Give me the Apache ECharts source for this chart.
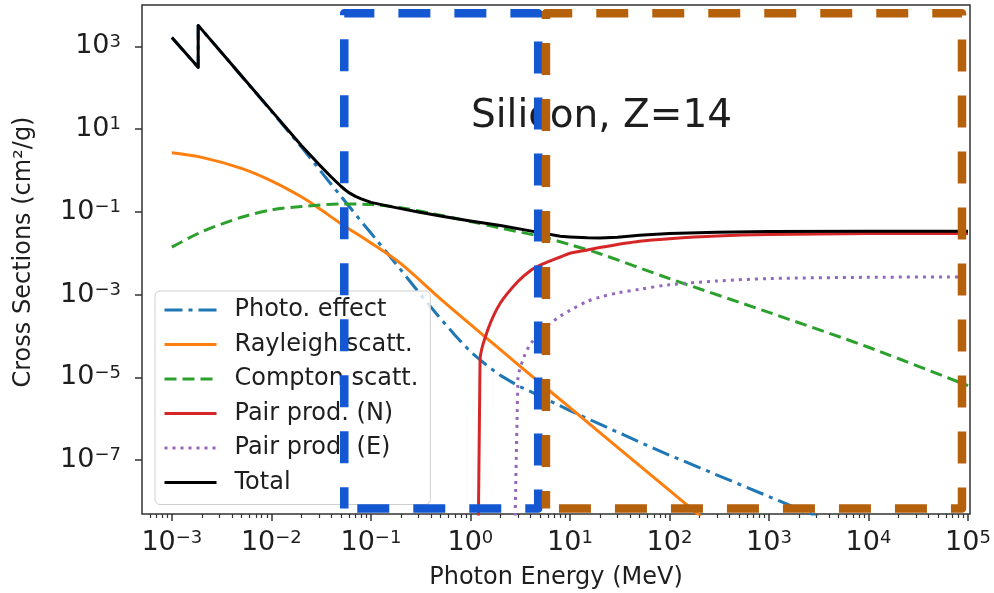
<!DOCTYPE html>
<html>
<head>
<meta charset="utf-8">
<script src="https://cdn.jsdelivr.net/npm/echarts@6.0.0/dist/echarts.min.js"></script>
<style>
  html, body { margin: 0; padding: 0; background: #ffffff; }
  #chart { width: 994px; height: 593px; }
</style>
</head>
<body>
<div id="chart"></div>
<script>
// Photon mass cross sections of silicon (Z = 14), energies in MeV, values in cm^2/g.
const photoEnergy = [1e-3, 1.839e-3, 1.839e-3, 2e-3, 3e-3, 5e-3, 1e-2, 2e-2, 3e-2, 4e-2, 5e-2, 6e-2, 8e-2, 0.1, 0.2, 0.3, 0.5, 0.7, 1, 1.5, 2, 3, 5, 10, 20, 50, 100, 1000, 1e4];
const photo = [1641, 307.6, 3199, 2529, 811, 193.2, 27.2, 3.72, 1.10, 0.461, 0.238, 0.139, 0.0589, 0.0309, 3.98e-3, 1.17e-3, 2.63e-4, 1.05e-4, 4.17e-5, 1.86e-5, 1.12e-5, 6.31e-6, 3.55e-6, 1.58e-6, 7.41e-7, 2.75e-7, 1.32e-7, 1.32e-8, 1.32e-9];

const rayleighEnergy = [1e-3, 2e-3, 5e-3, 1e-2, 2e-2, 3e-2, 5e-2, 0.1, 0.2, 0.5, 1, 2, 5, 10, 100, 1000];
const rayleigh = [2.69, 2.08, 1.13, 0.564, 0.232, 0.123, 0.0520, 0.0178, 5.62e-3, 7.94e-4, 1.91e-4, 4.68e-5, 7.41e-6, 1.86e-6, 1.86e-8, 1.86e-10];

const comptonEnergy = [1e-3, 2e-3, 5e-3, 1e-2, 2e-2, 5e-2, 0.1, 0.2, 0.5, 1, 2, 5, 10, 20, 100, 1000, 1e4, 1e5];
const compton = [0.0141, 0.0331, 0.0741, 0.112, 0.135, 0.155, 0.151, 0.126, 0.0832, 0.0589, 0.0407, 0.0257, 0.0162, 9.77e-3, 2.45e-3, 3.72e-4, 5.37e-5, 6.31e-6];

const pairNEnergy = [1.022, 1.25, 1.5, 2, 3, 4, 5, 6, 8, 10, 15, 20, 50, 100, 300, 1000, 1e4, 1e5];
const pairN = [0, 2.69e-5, 1.45e-4, 6.31e-4, 2.09e-3, 3.80e-3, 5.13e-3, 6.17e-3, 8.13e-3, 0.0100, 0.0120, 0.0138, 0.0195, 0.0226, 0.0263, 0.0285, 0.0299, 0.0302];

const pairEEnergy = [2.044, 3, 3.5, 4, 5, 6, 8, 10, 15, 20, 30, 50, 100, 300, 1000, 1e4, 1e5];
const pairE = [0, 8.91e-6, 3.39e-5, 6.31e-5, 1.20e-4, 1.82e-4, 3.02e-4, 4.17e-4, 6.92e-4, 8.71e-4, 1.10e-3, 1.35e-3, 1.74e-3, 2.14e-3, 2.45e-3, 2.63e-3, 2.69e-3];

const totalEnergy = [1e-3, 1.839e-3, 1.839e-3, 2e-3, 3e-3, 5e-3, 1e-2, 2e-2, 3e-2, 4e-2, 5e-2, 5.5e-2, 6e-2, 7e-2, 8e-2, 0.1, 0.15, 0.2, 0.3, 0.5, 1, 2, 5, 8, 10, 15, 20, 30, 50, 100, 300, 1000, 1e4, 1e5];
const total = [1648, 311.9, 3206, 2541, 816.6, 195.4, 28.05, 4.03, 1.41, 0.697, 0.417, 0.343, 0.292, 0.237, 0.207, 0.170, 0.138, 0.120, 0.100, 0.0794, 0.0603, 0.0468, 0.0316, 0.0257, 0.0248, 0.0237, 0.0234, 0.0243, 0.0272, 0.0302, 0.0324, 0.0335, 0.0339, 0.0339];

const seriesNames = ['Photo. effect', 'Rayleigh scatt.', 'Compton scatt.', 'Pair prod. (N)', 'Pair prod. (E)', 'Total'];

// Energy windows highlighted with dashed frames (MeV, cm^2/g).
const lowWindow = { energy: [0.054, 4.8], sigma: [6.8e-9, 6300] };
const highWindow = { energy: [5.74, 8.7e4], sigma: [6.8e-9, 6300] };

// Tick exponents (powers of ten).
const xTickExp = [-3, -2, -1, 0, 1, 2, 3, 4, 5];
const yTickExp = [-7, -5, -3, -1, 1, 3];

const FONT = 'DejaVu Sans';
const X_MIN = -3.3, X_MAX = 5.02, Y_MIN = -8.3, Y_MAX = 4.0;
const LOG_FLOOR = -30; // zero values are pushed far below the axis, as a log plot clips them

function toLog(E, V) {
  return E.map((e, i) => [Math.log10(e), V[i] > 0 ? Math.log10(V[i]) : LOG_FLOOR]);
}

// minor ticks at 2..9 x 10^n
const minorTicks = [];
for (let n = -4; n <= 4; n++) {
  for (let k = 2; k <= 9; k++) {
    const v = Math.log10(k) + n;
    if (v > X_MIN && v < X_MAX) minorTicks.push(v);
  }
}

function powerLabel(v) {
  const n = Math.round(v);
  return '{b|10}{s|' + String(n).replace('-', '\u2212') + '}';
}
const tickRich = {
  b: { fontSize: 27, lineHeight: 27, fontFamily: FONT, color: '#1e1e1e' },
  s: { fontSize: 18, lineHeight: 18, fontFamily: FONT, color: '#1e1e1e', verticalAlign: 'top' }
};

function curve(name, E, V, color, type, z, smooth) {
  return {
    name, type: 'line', data: toLog(E, V), symbol: 'none', showSymbol: false,
    clip: true, z, silent: true,
    smooth: smooth || false,
    itemStyle: { color },
    lineStyle: { color, width: 3, type, cap: 'butt', join: 'round' }
  };
}

function frame(win, color) {
  const [x0, x1] = win.energy.map(v => Math.log10(v));
  const [y0, y1] = win.sigma.map(v => Math.log10(v));
  return {
    type: 'line', data: [[x0, y0], [x1, y0], [x1, y1], [x0, y1], [x0, y0]],
    symbol: 'none', showSymbol: false, clip: false, z: 10, silent: true,
    lineStyle: { color, width: 8.5, type: [32, 24], dashOffset: 43, cap: 'butt', join: 'round' }
  };
}

const chart = echarts.init(document.getElementById('chart'), null, { renderer: 'canvas' });

const option = {
  animation: false,
  backgroundColor: '#ffffff',
  textStyle: { fontFamily: FONT },
  title: {
    text: 'Silicon, Z=14', left: 471, top: 97, padding: 0, z: 6,
    textStyle: { fontSize: 39, fontWeight: 'normal', color: '#1e1e1e', fontFamily: FONT }
  },
  grid: {
    left: 142, right: 24, top: 5, bottom: 79, show: true,
    borderColor: '#333333', borderWidth: 1.5, backgroundColor: 'transparent',
    containLabel: false, outerBoundsMode: 'none'
  },
  legend: {
    data: seriesNames,
    orient: 'vertical', left: 155, top: 291,
    padding: [7, 12, 10, 8], itemGap: 10.5, itemWidth: 52, itemHeight: 14,
    backgroundColor: 'rgba(255,255,255,0.8)', borderColor: '#cfcfcf', borderWidth: 1, borderRadius: 5,
    selectedMode: false, z: 4,
    lineStyle: { width: 3 },
    itemStyle: { color: 'rgba(0,0,0,0)', borderWidth: 0, opacity: 0 },
    formatter: name => '{t|' + name + '}',
    textStyle: {
      fontFamily: FONT, color: '#1e1e1e',
      rich: { t: { fontSize: 24, lineHeight: 24, fontFamily: FONT, color: '#1e1e1e', padding: [0, 0, 0, 13] } }
    }
  },
  xAxis: [
    {
      type: 'value', min: X_MIN, max: X_MAX, position: 'bottom',
      name: 'Photon Energy (MeV)', nameLocation: 'middle', nameGap: 52, nameMoveOverlap: false,
      nameTextStyle: { fontSize: 24, color: '#1e1e1e', fontFamily: FONT },
      axisLine: { show: false, onZero: false }, splitLine: { show: false },
      axisTick: { show: true, customValues: xTickExp, length: 7, lineStyle: { color: '#333333', width: 1.5 } },
      axisLabel: { customValues: xTickExp, formatter: powerLabel, rich: tickRich, margin: 15, color: '#1e1e1e' }
    },
    {
      type: 'value', min: X_MIN, max: X_MAX, position: 'bottom',
      axisLine: { show: false, onZero: false }, splitLine: { show: false },
      axisTick: { show: true, customValues: minorTicks, length: 4, lineStyle: { color: '#333333', width: 1.2 } },
      axisLabel: { show: false }
    }
  ],
  yAxis: {
    type: 'value', min: Y_MIN, max: Y_MAX,
    axisLine: { show: false, onZero: false }, splitLine: { show: false },
    axisTick: { show: true, customValues: yTickExp, length: 7, lineStyle: { color: '#333333', width: 1.5 } },
    axisLabel: { customValues: yTickExp, formatter: powerLabel, rich: tickRich, margin: 21, color: '#1e1e1e' }
  },
  graphic: [{
    type: 'text', x: 24, y: 252, rotation: Math.PI / 2, silent: true,
    style: {
      text: 'Cross Sections (cm²/g)', font: '24px "DejaVu Sans"', fill: '#1e1e1e',
      textAlign: 'center', textVerticalAlign: 'middle'
    }
  }],
  series: [
    curve(seriesNames[0], photoEnergy, photo, '#1f77b4', [18, 6, 4, 6], 2),
    curve(seriesNames[1], rayleighEnergy, rayleigh, '#ff7f0e', 'solid', 2, 0.3),
    curve(seriesNames[2], comptonEnergy, compton, '#2ca02c', [12, 6], 2, 0.3),
    curve(seriesNames[3], pairNEnergy, pairN, '#d62728', 'solid', 2, 0.3),
    curve(seriesNames[4], pairEEnergy, pairE, '#9467bd', [3, 5], 2, 0.3),
    curve(seriesNames[5], totalEnergy, total, '#000000', 'solid', 3),
    frame(lowWindow, '#1457d3'),
    frame(highWindow, '#b5610b')
  ]
};

chart.setOption(option);
</script>
</body>
</html>
